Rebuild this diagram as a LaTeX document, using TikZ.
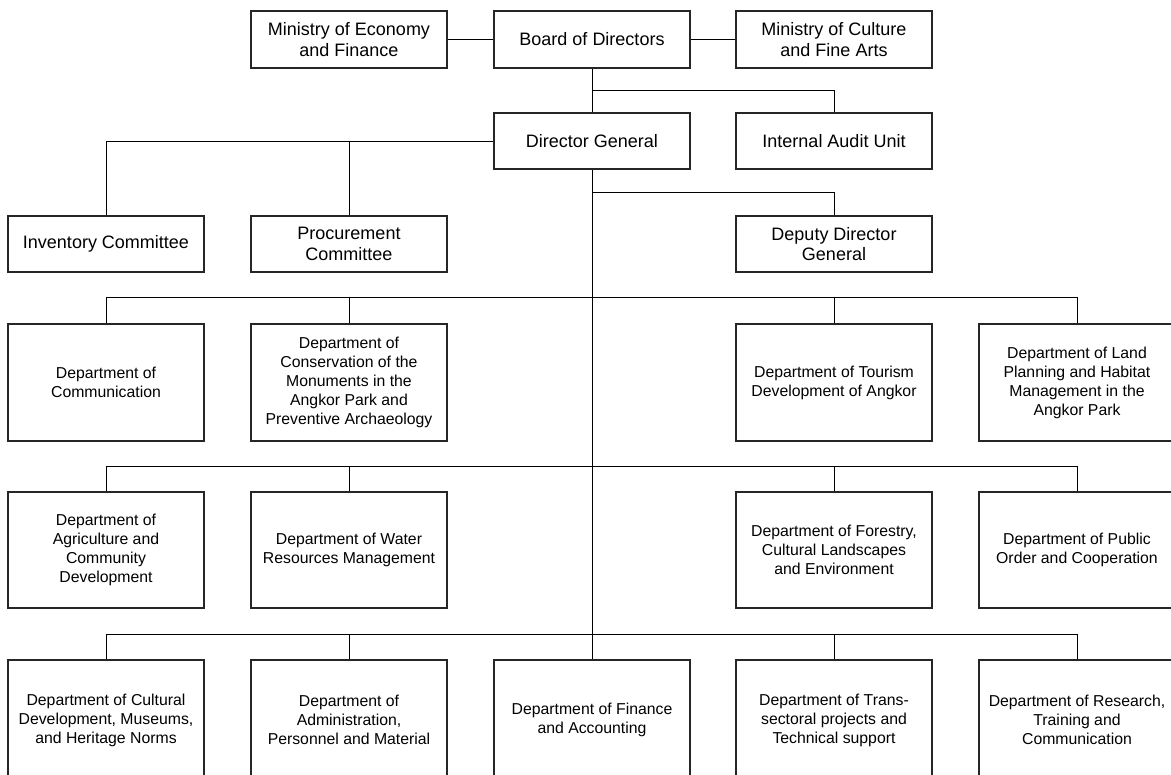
\documentclass[tikz,border=0pt]{standalone}
\usepackage{fontspec}
\setmainfont{Liberation Sans}
\tikzset{
  box/.style={draw=black!85, line width=1.3pt, minimum width=196pt, inner sep=0pt, align=center, fill=white},
  topbox/.style={box, minimum height=57pt, font=\fontsize{18}{20.5}\selectfont},
  deptbox/.style={box, font=\fontsize{15.8}{19}\selectfont},
  conn/.style={draw=black, line width=0.9pt}
}
\begin{document}
\begin{tikzpicture}[x=1pt,y=-1pt]
\useasboundingbox (0,0) rectangle (1171,775);
\clip (0,0) rectangle (1171,775);
\fill[white] (0,0) rectangle (1171,775);
% top level
\node[topbox] (me) at (349,39.5) {Ministry of Economy\\and Finance};
\node[topbox] (bd) at (592,39.5) {Board of Directors};
\node[topbox] (mc) at (834,39.5) {Ministry of Culture\\and Fine Arts};
\node[topbox, minimum height=56pt] (dg) at (592,141) {Director General};
\node[topbox, minimum height=56pt] (ia) at (834,141) {Internal Audit Unit};
\node[topbox, minimum height=56pt] (inv) at (106,244) {Inventory Committee};
\node[topbox, minimum height=56pt] (proc) at (349,244) {Procurement\\Committee};
\node[topbox, minimum height=56pt] (ddg) at (834,244) {Deputy Director\\General};
% row 1
\node[deptbox, minimum height=117pt] (r1a) at (106,382.5) {Department of\\Communication};
\node[deptbox, minimum height=117pt] (r1b) at (349,382.5) {Department of\\Conservation of the\\Monuments in the\\Angkor Park and\\Preventive Archaeology};
\node[deptbox, minimum height=117pt] (r1c) at (834,382.5) {Department of Tourism\\Development of Angkor};
\node[deptbox, minimum height=117pt] (r1d) at (1077,382.5) {Department of Land\\Planning and Habitat\\Management in the\\Angkor Park};
% row 2
\node[deptbox, minimum height=116pt] (r2a) at (106,550) {Department of\\Agriculture and\\Community\\Development};
\node[deptbox, minimum height=116pt] (r2b) at (349,550) {Department of Water\\Resources Management};
\node[deptbox, minimum height=116pt] (r2c) at (834,550) {Department of Forestry,\\Cultural Landscapes\\and Environment};
\node[deptbox, minimum height=116pt] (r2d) at (1077,550) {Department of Public\\Order and Cooperation};
% row 3
\node[deptbox, minimum height=120pt] (r3a) at (106,720) {Department of Cultural\\Development, Museums,\\and Heritage Norms};
\node[deptbox, minimum height=120pt] (r3b) at (349,720) {Department of\\Administration,\\Personnel and Material};
\node[deptbox, minimum height=120pt] (fin) at (592,720) {Department of Finance\\and Accounting};
\node[deptbox, minimum height=120pt] (r3d) at (834,720) {Department of Trans-\\sectoral projects and\\Technical support};
\node[deptbox, minimum height=120pt] (r3e) at (1077,720) {Department of Research,\\Training and\\Communication};
% connectors
\coordinate (b1) at (592,90);
\coordinate (b2) at (592,192);
\draw[conn] (me.east) -- (bd.west);
\draw[conn] (bd.east) -- (mc.west);
\draw[conn] (bd.south) -- (dg.north);
\draw[conn] (b1) -| (ia.north);
\draw[conn] (dg.west) -| (inv.north);
\draw[conn] (proc.north) -- (proc.north |- dg.west);
\draw[conn] (dg.south) -- (fin.north);
\draw[conn] (b2) -| (ddg.north);
% bus 1
\draw[conn] (r1a.north) -- ++(0,-26) -| (r1d.north);
\draw[conn] (r1b.north) -- ++(0,-26);
\draw[conn] (r1c.north) -- ++(0,-26);
% bus 2
\draw[conn] (r2a.north) -- ++(0,-25) -| (r2d.north);
\draw[conn] (r2b.north) -- ++(0,-25);
\draw[conn] (r2c.north) -- ++(0,-25);
% bus 3
\draw[conn] (r3a.north) -- ++(0,-25) -| (r3e.north);
\draw[conn] (r3b.north) -- ++(0,-25);
\draw[conn] (r3d.north) -- ++(0,-25);
\end{tikzpicture}
\end{document}
